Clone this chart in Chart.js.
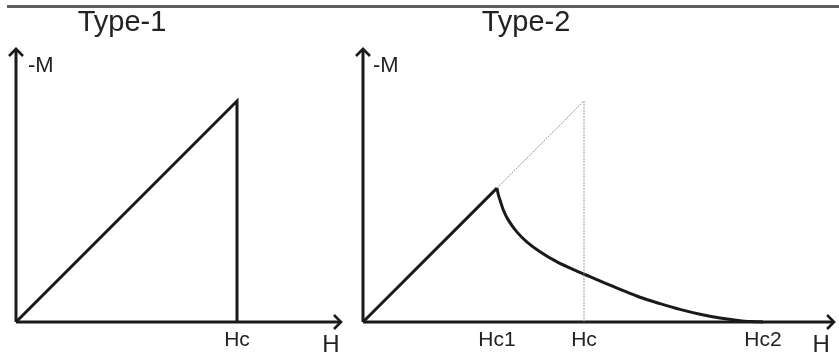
<!DOCTYPE html>
<html><head><meta charset="utf-8">
<script src="https://cdn.jsdelivr.net/npm/chart.js@4"></script>
<style>
html,body{margin:0;padding:0;background:#fff;width:839px;height:355px;overflow:hidden}
#wrap{position:relative;width:839px;height:355px}
.topline{position:absolute;left:7px;right:0;top:5px;height:3px;background:#5f5f5f}
#c1{position:absolute;left:0;top:0}
#c2{position:absolute;left:355px;top:0}
</style></head><body>
<div id="wrap"><div class="topline"></div>
<canvas id="c1" width="355" height="355"></canvas>
<canvas id="c2" width="484" height="355"></canvas>
</div>
<script>
// ---- text ----
const titles = ["Type-1", "Type-2"];
const yAxisLabel = "-M";
const xAxisLabel = "H";

// ---- Type-1 panel ----
const t1TickValues = [1];
const t1TickLabels = ["Hc"];
const t1H = [0, 1, 1];
const t1M = [0, 1, 0];
const t1AxisEnd = { h: 1.475, m: 1.24 };

// ---- Type-2 panel ----
const t2TickValues = [0.606, 1, 1.81];
const t2TickLabels = ["Hc1", "Hc", "Hc2"];
const t2MeissnerH = [0, 0.606];
const t2MeissnerM = [0, 0.606];
const t2MixedH = [0.606, 0.612, 0.620, 0.635, 0.657, 0.695, 0.741, 0.801, 0.876, 0.952, 1.027, 1.095, 1.163, 1.253, 1.344, 1.434, 1.525, 1.615, 1.706, 1.760, 1.810];
const t2MixedM = [0.606, 0.578, 0.552, 0.507, 0.462, 0.409, 0.363, 0.318, 0.273, 0.237, 0.205, 0.176, 0.148, 0.112, 0.083, 0.057, 0.035, 0.018, 0.006, 0.002, 0.000];
const t2GuideH = [0.606, 1, 1];
const t2GuideM = [0.606, 1, 0];
const t2AxisEnd = { h: 2.136, m: 1.24 };

const FONT = '"Liberation Sans", Arial, sans-serif';
const INK = '#1a1a1a';

function pts(xs, ys) { return xs.map((x, i) => ({ x: x, y: ys[i] })); }

function decor(cfg) {
  return {
    id: 'decor',
    afterDraw(chart) {
      const { ctx } = chart;
      const xs = chart.scales.x, ys = chart.scales.y;
      const x0 = xs.getPixelForValue(0), y0 = ys.getPixelForValue(0);
      const xe = xs.getPixelForValue(cfg.end.h), ye = ys.getPixelForValue(cfg.end.m);
      ctx.save();
      ctx.strokeStyle = INK; ctx.lineWidth = 2.6; ctx.lineJoin = 'miter'; ctx.lineCap = 'butt';
      // arrowheads
      ctx.beginPath(); ctx.moveTo(x0 - 7, ye + 8); ctx.lineTo(x0, ye + 1); ctx.lineTo(x0 + 7, ye + 8); ctx.stroke();
      ctx.beginPath(); ctx.moveTo(xe - 8, y0 - 7); ctx.lineTo(xe - 1, y0); ctx.lineTo(xe - 8, y0 + 7); ctx.stroke();
      // texts
      ctx.fillStyle = '#222';
      ctx.textBaseline = 'alphabetic';
      ctx.textAlign = 'center';
      ctx.font = '29px ' + FONT;
      ctx.fillText(cfg.title, cfg.titleX, 31);
      ctx.textAlign = 'left';
      ctx.font = '22px ' + FONT;
      ctx.fillText(yAxisLabel, x0 + cfg.mDx, 72);
      ctx.textAlign = 'center';
      ctx.font = '24px ' + FONT;
      ctx.fillText(xAxisLabel, xe + cfg.hDx, 352);
      ctx.restore();
    }
  };
}

function makeChart(id, cfg) {
  const UNIT = 221;
  const canvas = document.getElementById(id);
  const W = canvas.width, H = canvas.height;
  const originY = 322;
  const padRight = W - cfg.padLeft - cfg.xMax * UNIT;
  const padTop = originY - cfg.yMax * UNIT;
  return new Chart(canvas, {
    type: 'line',
    data: { datasets: cfg.datasets },
    options: {
      responsive: false,
      animation: false,
      devicePixelRatio: 1,
      layout: { padding: { left: cfg.padLeft, right: padRight, top: padTop, bottom: 0 } },
      plugins: { legend: { display: false }, tooltip: { enabled: false }, title: { display: false } },
      elements: { point: { radius: 0 } },
      scales: {
        x: {
          type: 'linear', min: 0, max: cfg.xMax,
          grid: { display: false, drawTicks: false }, border: { display: false },
          afterBuildTicks: s => { s.ticks = cfg.tickValues.map(v => ({ value: v })); },
          afterFit: s => { s.height = H - originY; },
          ticks: {
            autoSkip: false, maxRotation: 0, minRotation: 0, padding: 6, color: '#222',
            font: { size: 21, family: FONT },
            callback: (v, i) => cfg.tickLabels[i]
          }
        },
        y: { type: 'linear', min: 0, max: cfg.yMax, display: false }
      }
    },
    plugins: [decor(cfg)]
  });
}

const axisStyle = { borderColor: INK, borderWidth: 3, tension: 0, clip: false, pointRadius: 0 };

makeChart('c1', {
  padLeft: 16, xMax: 1.52, yMax: 1.26,
  tickValues: t1TickValues, tickLabels: t1TickLabels,
  end: t1AxisEnd, title: titles[0], titleX: 122, mDx: 12, hDx: -11,
  datasets: [
    Object.assign({ data: pts([0, t1AxisEnd.h - 0.005], [0, 0]) }, axisStyle),
    Object.assign({ data: pts([0, 0], [0, t1AxisEnd.m - 0.005]) }, axisStyle),
    { data: pts(t1H, t1M), borderColor: INK, borderWidth: 3, tension: 0, clip: false, pointRadius: 0 }
  ]
});

makeChart('c2', {
  padLeft: 8, xMax: 2.15, yMax: 1.26,
  tickValues: t2TickValues, tickLabels: t2TickLabels,
  end: t2AxisEnd, title: titles[1], titleX: 171, mDx: 10, hDx: -14,
  datasets: [
    { data: pts(t2GuideH, t2GuideM), borderColor: '#9a9a9a', borderWidth: 1, borderDash: [2, 1], tension: 0, clip: false, pointRadius: 0 },
    Object.assign({ data: pts([0, t2AxisEnd.h - 0.005], [0, 0]) }, axisStyle),
    Object.assign({ data: pts([0, 0], [0, t2AxisEnd.m - 0.005]) }, axisStyle),
    { data: pts(t2MeissnerH, t2MeissnerM), borderColor: INK, borderWidth: 3, tension: 0, clip: false, pointRadius: 0 },
    { data: pts(t2MixedH, t2MixedM), borderColor: INK, borderWidth: 3, tension: 0.3, clip: false, pointRadius: 0 }
  ]
});
</script>
</body></html>
